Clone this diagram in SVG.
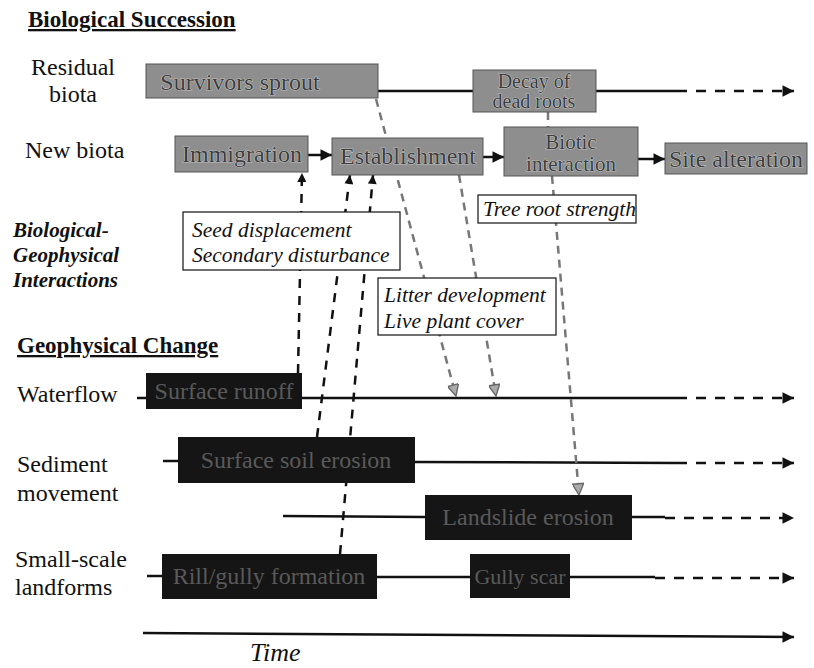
<svg xmlns="http://www.w3.org/2000/svg" width="814" height="668" viewBox="0 0 814 668">
<style>
text{font-family:"Liberation Serif","Times New Roman",serif;fill:#111}
.lbl{font-size:24px}
.hd{font-size:23px;font-weight:bold;text-decoration:underline}
.bi{font-size:21px;font-weight:bold;font-style:italic}
.it{font-size:21.5px;font-style:italic}
.gbox{fill:#8e8e8e;stroke:#555;stroke-width:1}
.gtx{font-size:24px;fill:#3c3c3c;stroke:#e6e6e6;stroke-width:0.7;paint-order:stroke;text-anchor:middle}
.dbox{fill:#151515}
.dtx{font-size:24px;fill:#5a5a5a;text-anchor:middle}
.wbox{fill:#fff;stroke:#111;stroke-width:1.2}
.sol{stroke:#111;stroke-width:2.5;fill:none}
.dsh{stroke:#111;stroke-width:2.5;fill:none;stroke-dasharray:10 9}
.up{stroke:#111;stroke-width:2.5;fill:none;stroke-dasharray:9 8}
.dn{stroke:#777;stroke-width:2.5;fill:none;stroke-dasharray:8 6}
</style>
<defs>
<marker id="ah" viewBox="0 0 10 10" refX="10" refY="5" markerWidth="7" markerHeight="4.6" markerUnits="strokeWidth" orient="auto">
<path d="M0,0 L10,5 L0,10 z" fill="#111"/>
</marker>
<marker id="au" viewBox="0 0 10 10" refX="10" refY="5" markerWidth="4.5" markerHeight="3.6" markerUnits="strokeWidth" orient="auto">
<path d="M0,0 L10,5 L0,10 z" fill="#111"/>
</marker>
<marker id="ahg" viewBox="0 0 10 10" refX="10" refY="5" markerWidth="5.5" markerHeight="4.5" markerUnits="strokeWidth" orient="auto">
<path d="M0,0 L10,5 L0,10 z" fill="#aaa" stroke="#666" stroke-width="1.2"/>
</marker>
</defs>

<g id="labels">
<text class="hd" x="28" y="27">Biological Succession</text>
<text class="lbl" x="73" y="75" text-anchor="middle">Residual</text>
<text class="lbl" x="73" y="102" text-anchor="middle">biota</text>
<text class="lbl" x="25" y="158">New biota</text>
<text class="bi" x="13" y="237">Biological-</text>
<text class="bi" x="13" y="262">Geophysical</text>
<text class="bi" x="13" y="287">Interactions</text>
<text class="hd" x="17" y="353">Geophysical Change</text>
<text class="lbl" x="17" y="402">Waterflow</text>
<text class="lbl" x="17" y="472">Sediment</text>
<text class="lbl" x="17" y="501">movement</text>
<text class="lbl" x="15" y="567">Small-scale</text>
<text class="lbl" x="15" y="595">landforms</text>
<text x="250" y="661" style="font-size:26px;font-style:italic">Time</text>
</g>

<g id="connectors">
<!-- residual biota row -->
<line class="sol" x1="378" y1="91" x2="473" y2="91"/>
<line class="sol" x1="596" y1="91" x2="677" y2="91"/>
<line class="dsh" x1="677" y1="91" x2="794" y2="91" marker-end="url(#ah)"/>
<!-- new biota row -->
<line class="sol" x1="308" y1="155" x2="332" y2="155" marker-end="url(#ah)"/>
<line class="sol" x1="483" y1="157" x2="504" y2="157" marker-end="url(#ah)"/>
<line class="sol" x1="638" y1="159" x2="665" y2="159" marker-end="url(#ah)"/>
<line class="dn" x1="548" y1="112" x2="548" y2="127"/>
<!-- waterflow row -->
<line class="sol" x1="137" y1="398" x2="146" y2="398"/>
<line class="sol" x1="302" y1="398" x2="677" y2="398"/>
<line class="dsh" x1="677" y1="398" x2="794" y2="398" marker-end="url(#ah)"/>
<!-- sediment row 1 -->
<line class="sol" x1="163" y1="461" x2="178" y2="461"/>
<line class="sol" x1="415" y1="462" x2="677" y2="463"/>
<line class="dsh" x1="677" y1="463" x2="794" y2="463" marker-end="url(#ah)"/>
<!-- sediment row 2 -->
<line class="sol" x1="283" y1="516" x2="425" y2="517"/>
<line class="sol" x1="632" y1="517" x2="665" y2="517"/>
<line class="dsh" x1="665" y1="518" x2="794" y2="518" marker-end="url(#ah)"/>
<!-- landforms row -->
<line class="sol" x1="147" y1="576" x2="162" y2="576"/>
<line class="sol" x1="377" y1="577" x2="470" y2="577"/>
<line class="sol" x1="570" y1="577" x2="655" y2="577"/>
<line class="dsh" x1="655" y1="578" x2="794" y2="578" marker-end="url(#ah)"/>
<!-- time axis -->
<line class="sol" x1="143" y1="633" x2="794" y2="637" stroke-width="2" marker-end="url(#ah)"/>
<!-- upward interactions -->
<line class="up" x1="298" y1="373" x2="302" y2="173" marker-end="url(#au)"/>
<line class="up" x1="317" y1="437" x2="350" y2="175" marker-end="url(#au)"/>
<line class="up" x1="340" y1="554" x2="373" y2="175" marker-end="url(#au)"/>
<!-- downward interactions -->
<line class="dn" x1="376" y1="99" x2="456" y2="396" marker-end="url(#ahg)"/>
<line class="dn" x1="459" y1="175" x2="496" y2="396" marker-end="url(#ahg)"/>
<line class="dn" x1="552" y1="176" x2="579" y2="495" marker-end="url(#ahg)"/>
</g>

<g id="survivors-sprout"><rect class="gbox" x="146" y="64" width="232" height="34"/><text class="gtx" x="240" y="90">Survivors sprout</text></g>
<g id="decay-dead-roots"><rect class="gbox" x="473" y="70" width="123" height="42"/><text class="gtx" x="534" y="88" style="font-size:20px">Decay of</text><text class="gtx" x="534" y="108" style="font-size:20px">dead roots</text></g>
<g id="immigration"><rect class="gbox" x="175" y="136" width="133" height="36"/><text class="gtx" x="242" y="162">Immigration</text></g>
<g id="establishment"><rect class="gbox" x="332" y="138" width="151" height="37"/><text class="gtx" x="408" y="164">Establishment</text></g>
<g id="biotic-interaction"><rect class="gbox" x="504" y="127" width="134" height="49"/><text class="gtx" x="571" y="149" style="font-size:21px">Biotic</text><text class="gtx" x="571" y="171" style="font-size:21px">interaction</text></g>
<g id="site-alteration"><rect class="gbox" x="665" y="143" width="142" height="31"/><text class="gtx" x="736" y="167">Site alteration</text></g>

<g id="surface-runoff"><rect class="dbox" x="146" y="373" width="156" height="36"/><text class="dtx" x="224" y="399">Surface runoff</text></g>
<g id="surface-soil-erosion"><rect class="dbox" x="178" y="437" width="237" height="46"/><text class="dtx" x="296" y="468">Surface soil erosion</text></g>
<g id="landslide-erosion"><rect class="dbox" x="425" y="495" width="207" height="45"/><text class="dtx" x="528" y="525">Landslide erosion</text></g>
<g id="rill-gully-formation"><rect class="dbox" x="162" y="554" width="215" height="45"/><text class="dtx" x="269" y="584">Rill/gully formation</text></g>
<g id="gully-scar"><rect class="dbox" x="470" y="554" width="100" height="44"/><text class="dtx" x="520" y="584" style="font-size:22px">Gully scar</text></g>

<g id="seed-displacement"><rect class="wbox" x="183" y="212" width="217" height="58"/><text class="it" x="192" y="237">Seed displacement</text><text class="it" x="192" y="262">Secondary disturbance</text></g>
<g id="tree-root-strength"><rect class="wbox" x="478" y="195" width="158" height="28"/><text class="it" x="483" y="216">Tree root strength</text></g>
<g id="litter-development"><rect class="wbox" x="378" y="278" width="178" height="57"/><text class="it" x="384" y="302">Litter development</text><text class="it" x="384" y="328">Live plant cover</text></g>
</svg>
